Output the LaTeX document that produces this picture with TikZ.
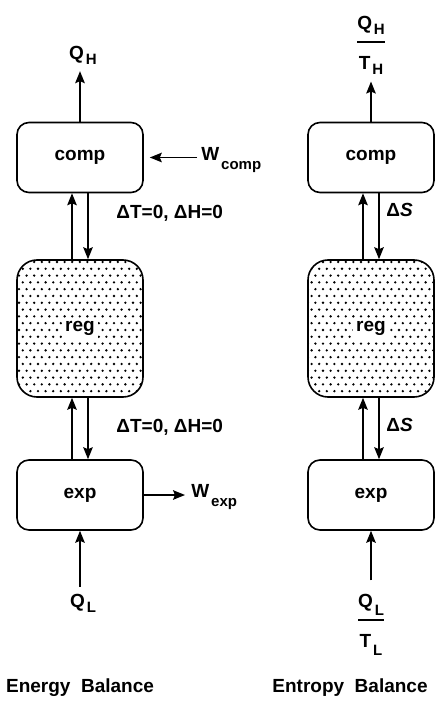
\documentclass[tikz,border=0pt]{standalone}
\usepackage{fontspec}
\setmainfont{Liberation Sans}
\usepackage{tikz}
\usetikzlibrary{arrows.meta,patterns}

% staggered dot fill of the regenerator
\pgfdeclarepatternformonly{regdots}{\pgfqpoint{-1pt}{-1pt}}{\pgfqpoint{4.8pt}{7.8pt}}{\pgfqpoint{3.8pt}{6.8pt}}{%
  \pgfpathcircle{\pgfqpoint{0pt}{0pt}}{0.65pt}%
  \pgfpathcircle{\pgfqpoint{1.9pt}{3.4pt}}{0.65pt}%
  \pgfusepath{fill}}

\newcommand{\lowidx}[2][-2.5pt]{\kern0.1em\raisebox{#1}{\fontsize{7.5}{9}\selectfont\bfseries #2}}
\setlength{\fboxsep}{1.5pt}
\setlength{\arrayrulewidth}{0.75pt}

\begin{document}
\begin{tikzpicture}[
  x=0.5pt, y=-0.5pt,
  font=\fontsize{9.5}{12}\selectfont\bfseries,
  >={Stealth[length=6pt,width=4.8pt,inset=1pt]},
  unitbox/.style={
    draw, line width=0.8pt, rounded corners=6pt,
    minimum width=63pt, minimum height=35pt, inner sep=0pt
  },
  regbox/.style={
    unitbox, rounded corners=10pt, minimum height=68.5pt,
    pattern=regdots
  },
  flowarrow/.style={
    ->, line width=0.7pt
  },
  fraclabel/.style={
    inner sep=0pt
  },
  sidelabel/.style={
    anchor=west, inner sep=0pt
  }
]

\useasboundingbox (0,0) rectangle (445,704);

% Column positions
\def\colE{80}
\def\colS{371}

% ===== Energy balance =====
\node[unitbox] (compE) at (\colE,157.5) {comp};
\node[regbox] (regE) at (\colE,328.5) {\colorbox{white}{reg}};
\node[unitbox] (expE) at (\colE,495) {exp};

\node (qhE) at (\colE+3,55) {Q\lowidx{H}};
\node[sidelabel] (wcomp) at (201,160) {W\lowidx[-4.5pt]{comp}};
\node[sidelabel] (dtTop) at (116,213) {ΔT=0, ΔH=0};
\node[sidelabel] (dtBot) at (116,427) {ΔT=0, ΔH=0};
\node[sidelabel] (wexp) at (191,497) {W\lowidx[-4.5pt]{exp}};
\node (qlE) at (\colE+3,603) {Q\lowidx{L}};
\node (titleE) at (\colE,688) {Energy\ \ Balance};

% ===== Entropy balance =====
\node[unitbox] (compS) at (\colS,157.5) {comp};
\node[regbox] (regS) at (\colS,328.5) {\colorbox{white}{reg}};
\node[unitbox] (expS) at (\colS,495) {exp};

\node[fraclabel] (qhS) at (\colS,42)
  {\renewcommand{\arraystretch}{1.6}\begin{tabular}{@{}c@{}}Q\lowidx{H}\\\hline T\lowidx{H}\end{tabular}};
\node[sidelabel] (dsTop) at (386,210) {Δ\textit{S}};
\node[sidelabel] (dsBot) at (386,425) {Δ\textit{S}};
\node[fraclabel] (qlS) at (\colS,620)
  {\renewcommand{\arraystretch}{1.6}\begin{tabular}{@{}c@{}}Q\lowidx[-4pt]{L}\\\hline T\lowidx[-4pt]{L}\end{tabular}};
\node (titleS) at (350,688) {Entropy\ \ Balance};

% Heat and work flows
\draw[flowarrow] (compE) -- (compE |- qhE.south);
\draw[flowarrow, shorten <=2pt, shorten >=3pt] (wcomp.west |- compE) -- (compE.east);
\draw[flowarrow, shorten >=3pt] (expE.east) -- (wexp.west |- expE);
\draw[flowarrow] (expE |- qlE.north) -- (expE);
\draw[flowarrow] (compS) -- (qhS.south);
\draw[flowarrow] (qlS.north) -- (expS);

% Exchange with the regenerator
\foreach \c in {E,S} {
  \draw[flowarrow] ([xshift=-4pt]reg\c.north) -- ([xshift=-4pt]comp\c.south);
  \draw[flowarrow] ([xshift=4pt]comp\c.south) -- ([xshift=4pt]reg\c.north);
  \draw[flowarrow] ([xshift=-4pt]exp\c.north) -- ([xshift=-4pt]reg\c.south);
  \draw[flowarrow] ([xshift=4pt]reg\c.south) -- ([xshift=4pt]exp\c.north);
}

\end{tikzpicture}
\end{document}
